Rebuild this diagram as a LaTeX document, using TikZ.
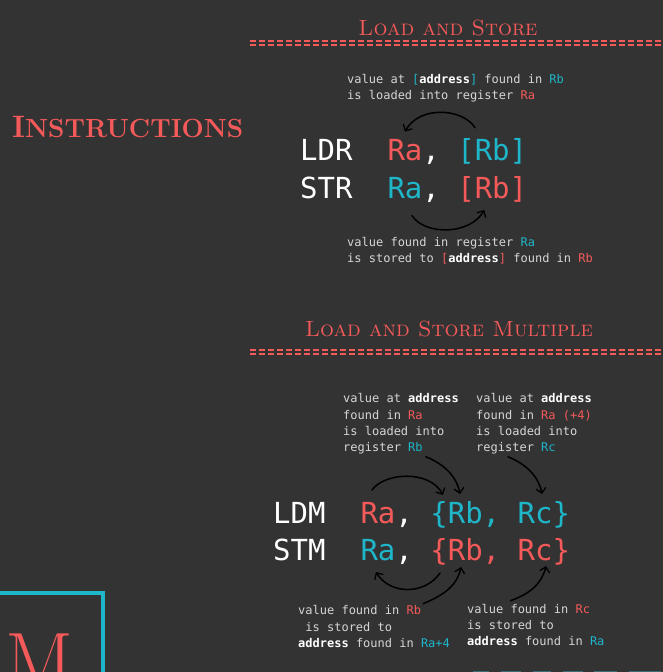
\documentclass[tikz,border=0pt]{standalone}
\usepackage{fontspec}
\setmonofont{DejaVu Sans Mono}
\usetikzlibrary{arrows.meta,calc}
\definecolor{bg}{HTML}{333333}
\definecolor{myred}{HTML}{F55A5A}
\definecolor{mycyan}{HTML}{1FB6CA}
\definecolor{txt}{HTML}{D6D6D6}
\definecolor{boxteal}{HTML}{3A6E76}
\newcommand\addrw{\textcolor{white}{\bfseries address}}
\newcommand\rd[1]{\textcolor{myred}{#1}}
\newcommand\cy[1]{\textcolor{mycyan}{#1}}
\tikzset{
  code/.style={font=\fontsize{29}{29}\selectfont\ttfamily, inner sep=0pt, anchor=base west, text=white},
  note/.style={font=\fontsize{12}{14}\selectfont\ttfamily, inner sep=0pt, anchor=base west, text=txt},
  sectitle/.style={font=\fontsize{22}{22}\selectfont\scshape, text=myred, inner sep=0pt, anchor=base},
  flow/.style={draw=black, line width=1.5pt, line cap=round, -{Straight Barb[length=5pt,width=10pt,line width=1.3pt]}},
  rule/.style={draw=myred, line width=1.1pt, dash pattern=on 6pt off 3pt},
}
\begin{document}
\begin{tikzpicture}[x=1pt,y=-1pt]
\useasboundingbox (0,0) rectangle (663,672);
\clip (0,0) rectangle (663,672);
\fill[bg] (0,0) rectangle (663,672);

% left decorations
\node[font=\fontsize{31}{31}\selectfont\bfseries, text=myred, inner sep=0pt, anchor=base west] (instr) at (12,137) {I\fontsize{26.2}{26.2}\selectfont NSTRUCTIONS};
\draw[mycyan, line width=4pt] (-5,593) rectangle (103,700);
\node[font=\fontsize{80}{80}\selectfont, text=myred, inner sep=0pt, anchor=base west] (bigm) at (5,688) {M};
\foreach \a/\b in {473/489,501/521,533/551,563/583,594/617,629/661}
  \fill[boxteal] (\a,670.5) rectangle (\b,680);

% ---------- Load and Store ----------
\node[sectitle] (t1) at (448,35) {Load and Store};
\draw[rule] (250,41) -- (663,41);
\draw[rule] (250,45) -- (663,45);

\node[note] (n1a) at (347,83) {value at \cy{[}\addrw\cy{]} found in \cy{Rb}};
\node[note] (n1b) at (347,99) {is loaded into register \rd{Ra}};

\node[code] (ldr) at (300,160) {LDR};
\node[code,text=myred] (ldra) at (387.3,160) {Ra};
\node[code] (ldrc) at (422.2,160) {,};
\node[code,text=mycyan] (ldrb) at (457.1,160) {[Rb]};

\node[code] (str) at (300,198) {STR};
\node[code,text=mycyan] (stra) at (387.3,198) {Ra};
\node[code] (strc) at (422.2,198) {,};
\node[code,text=myred] (strb) at (457.1,198) {[Rb]};

\node[note] (n1c) at (347,246) {value found in register \cy{Ra}};
\node[note] (n1d) at (347,262) {is stored to \rd{[}\addrw\rd{]} found in \rd{Rb}};

\draw[flow] ($(ldrb.north west)+(18,-10)$) .. controls +(-13,-20) and +(14,-26) .. ($(ldra.north)+(0,-7)$);
\draw[flow] ($(stra.south)+(7,17)$) .. controls +(13,20) and +(-14,25) .. ($(strb.south)+(-8,8)$);

% ---------- Load and Store Multiple ----------
\node[sectitle] (t2) at (449,336) {Load and Store Multiple};
\draw[rule] (250,350) -- (663,350);
\draw[rule] (250,354) -- (663,354);

\node[note] (l1) at (343,402) {value at \addrw};
\node[note] (l2) at (343,419) {found in \rd{Ra}};
\node[note] (l3) at (343,435) {is loaded into};
\node[note] (l4) at (343,451) {register \cy{Rb}};
\node[note] (r1) at (476,402) {value at \addrw};
\node[note] (r2) at (476,419) {found in \rd{Ra (+4)}};
\node[note] (r3) at (476,435) {is loaded into};
\node[note] (r4) at (476,451) {register \cy{Rc}};

\node[code] (ldm) at (273,523) {LDM};
\node[code,text=myred] (ldma) at (360.3,523) {Ra};
\node[code] (ldmc) at (395.2,523) {,};
\node[code,text=mycyan] (ldmlb) at (430.1,523) {\{};
\node[code,text=mycyan] (ldmrb) at (447.6,523) {Rb,};
\node[code,text=mycyan] (ldmrc) at (517.4,523) {Rc};
\node[code,text=mycyan] (ldmrr) at (552.4,523) {\}};

\node[code] (stm) at (273,560) {STM};
\node[code,text=mycyan] (stma) at (360.3,560) {Ra};
\node[code] (stmc) at (395.2,560) {,};
\node[code,text=myred] (stmlb) at (430.1,560) {\{};
\node[code,text=myred] (stmrb) at (447.6,560) {Rb,};
\node[code,text=myred] (stmrc) at (517.4,560) {Rc};
\node[code,text=myred] (stmrr) at (552.4,560) {\}};

\node[note] (b1) at (298,614) {value found in \rd{Rb}};
\node[note] (b2) at (298,631) {\phantom{v}is stored to};
\node[note] (b3) at (298,647) {\addrw{} found in \cy{Ra+4}};
\node[note] (c1) at (467,613) {value found in \rd{Rc}};
\node[note] (c2) at (467,629) {is stored to};
\node[note] (c3) at (467,645) {\addrw{} found in \cy{Ra}};

\draw[flow] (372,490) .. controls +(13,-18) and +(-13,-25) .. (443,495);
\draw[flow] ($(l4.south east)+(3,3)$) .. controls +(20,8) and +(-3,-16) .. (460,494);
\draw[flow] ($(r4.south)+(-8,3)$) .. controls +(20,8) and +(-3,-16) .. (542,494);
\draw[flow] (440,573) .. controls +(-15,22) and +(14,23) .. (376,572);
\draw[flow] ($(b1.north east)+(2,-1)$) .. controls +(22,-9) and +(-4,18) .. (461,567);
\draw[flow] ($(c1.north)+(-18,-3)$) .. controls +(20,-7) and +(-4,17) .. (546,566);
\end{tikzpicture}
\end{document}
